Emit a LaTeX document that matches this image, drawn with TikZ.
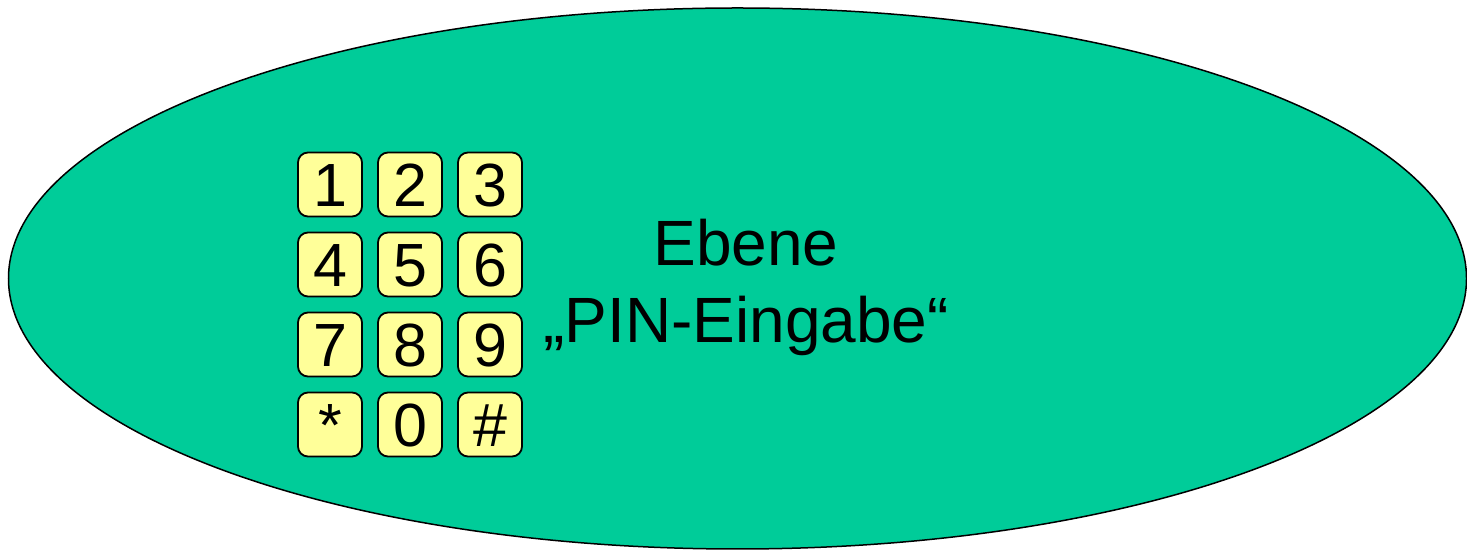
\documentclass[tikz,border=0pt]{standalone}
\usepackage{fontspec}
\setmainfont{Liberation Sans}
\definecolor{layergreen}{RGB}{0,204,153}
\definecolor{keyyellow}{RGB}{255,255,153}
\tikzset{
  keybox/.style={draw=black, line width=1.8pt, fill=keyyellow, rounded corners=10pt,
    minimum width=64pt, minimum height=64pt, inner sep=0pt,
    font=\fontsize{61}{61}\selectfont, text height=44pt, text depth=0pt},
  layer/.style={draw=black, line width=1.5pt, fill=layergreen},
  layerlabel/.style={align=center, inner sep=0pt, font=\fontsize{64}{76.7}\selectfont}
}
\begin{document}
\begin{tikzpicture}[x=1pt,y=1pt]
\useasboundingbox (0,0) rectangle (1467,551);
\path[layer] (737.5,272.5) ellipse [x radius=729, y radius=270.5];
\node[keybox] (k1) at (330,366.5) {1};
\node[keybox] (k2) at (410,366.5) {2};
\node[keybox] (k3) at (490,366.5) {3};
\node[keybox] (k4) at (330,286.5) {4};
\node[keybox] (k5) at (410,286.5) {5};
\node[keybox] (k6) at (490,286.5) {6};
\node[keybox] (k7) at (330,206.5) {7};
\node[keybox] (k8) at (410,206.5) {8};
\node[keybox] (k9) at (490,206.5) {9};
\node[keybox] (kstar) at (330,126.5) {*};
\node[keybox] (k0) at (410,126.5) {0};
\node[keybox] (khash) at (490,126.5) {\#};
\node[layerlabel, anchor=north] (label) at (746,331.8) {Ebene\\„PIN-Eingabe“};
\end{tikzpicture}
\end{document}
